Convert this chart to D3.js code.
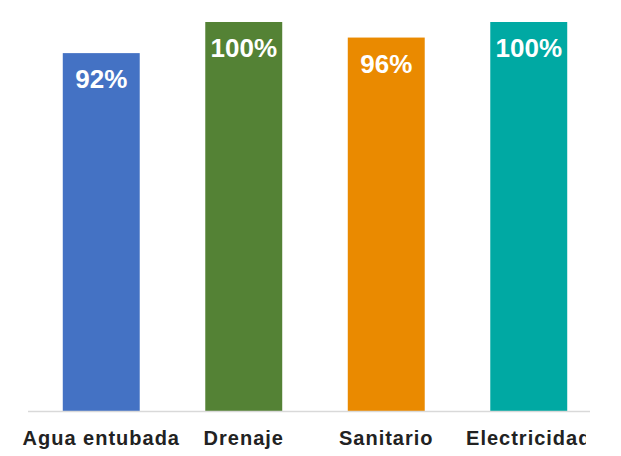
<!DOCTYPE html>
<html><head><meta charset="utf-8">
<script src="https://cdn.jsdelivr.net/npm/d3@7"></script>
<style>body{margin:0;background:#fff}svg{display:block}</style>
</head><body>
<script>
const categories = ["Agua entubada","Drenaje","Sanitario","Electricidad"];
const values = [92,100,96,100];
const valueLabels = ["92%","100%","96%","100%"];
const colors = ["#4472C4","#548235","#EA8A00","#00A9A3"];

const W=621,H=456;
const svg=d3.select("body").append("svg").attr("width",W).attr("height",H);
const x=d3.scaleBand().domain(categories).range([30,600]).paddingInner(0.46).paddingOuter(0.23);
const y=d3.scaleLinear().domain([0,100]).range([411,22]);

svg.append("defs").append("clipPath").attr("id","clip").append("rect")
  .attr("x",0).attr("y",0).attr("width",586).attr("height",H);

svg.selectAll("rect.bar").data(values).join("rect").attr("class","bar")
  .attr("x",(d,i)=>x(categories[i])).attr("width",x.bandwidth())
  .attr("y",d=>y(d)).attr("height",d=>y(0)-y(d))
  .attr("fill",(d,i)=>colors[i]);

svg.append("line").attr("x1",28).attr("x2",590).attr("y1",411.5).attr("y2",411.5)
  .attr("stroke","#d9d9d9").attr("stroke-width",1.5);

svg.selectAll("text.val").data(values).join("text").attr("class","val")
  .attr("x",(d,i)=>x(categories[i])+x.bandwidth()/2)
  .attr("y",d=>y(d)+35)
  .attr("text-anchor","middle")
  .attr("font-family","Liberation Sans, Arial, sans-serif")
  .attr("font-weight","bold").attr("font-size",26).attr("fill","#fff")
  .text((d,i)=>valueLabels[i]);

const g=svg.append("g").attr("clip-path","url(#clip)");
g.selectAll("text.cat").data(categories).join("text").attr("class","cat")
  .attr("x",d=>x(d)+x.bandwidth()/2)
  .attr("y",445)
  .attr("text-anchor","middle")
  .attr("font-family","Liberation Sans, Arial, sans-serif")
  .attr("font-weight","bold").attr("font-size",20).attr("letter-spacing",1)
  .attr("fill","#222")
  .text(d=>d);
</script>
</body></html>
